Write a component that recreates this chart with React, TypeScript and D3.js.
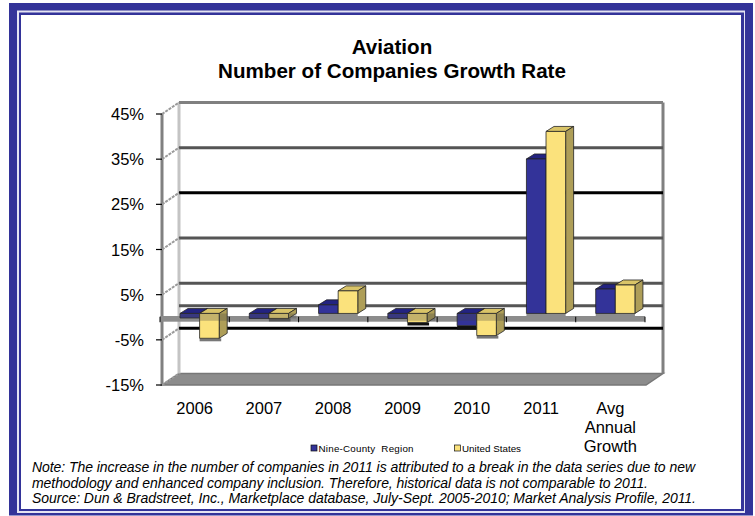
import React from "react";
import * as d3 from "d3";

const categories = ["2006", "2007", "2008", "2009", "2010", "2011", "Avg|Annual|Growth"];
const nineCounty = [-1.0, -1.1, 1.9, -1.1, -2.7, 34.2, 5.4];
const unitedStates = [-5.5, -1.1, 5.0, -2.0, -4.9, 40.3, 6.3];
const yTicks = [45, 35, 25, 15, 5, -5, -15];
const titleLines = ["Aviation", "Number of Companies Growth Rate"];
const noteLines = [
  "Note: The increase in the number of companies in 2011 is attributed to a break in the data series due to new",
  "methodology and enhanced company inclusion. Therefore, historical data is not comparable to 2011.",
  "Source: Dun & Bradstreet, Inc., Marketplace database, July-Sept. 2005-2010; Market Analysis Profile, 2011.",
];
const noteWidths = [663, 616, 664];
const seriesNames = ["Nine-County  Region", "United States"];

const W = 755, H = 516;
const FRONT_L = 162, FRONT_R = 646;
const DX = 17, DY = 11.5;
const BLUE = "#333399", YELLOW = "#FBE27C", BLUE_TOP = "#232380", YELLOW_TOP = "#D9C468", BLUE_SIDE = "#1d1d6b", YELLOW_SIDE = "#AE9E58";

const y = d3.scaleLinear().domain([-15, 45]).range([385, 114]);
const x = d3.scaleBand().domain(categories).range([160, 645]).paddingInner(0).paddingOuter(0);
const BAR_BASE_SHIFT = -3.8;
const BAR_W = 19.6, BAR_DX = 8, BAR_DY = 5, BAR_OFFSET = 20;
const gridColor = (v: number) => (v === 45 ? "#808080" : v === 25 || v === -5 ? "#000" : "#555");
const pts = (a: number[][]) => a.map((p) => p.join(",")).join(" ");

function Bar({ xl, v, front, top, side }: { xl: number; v: number; front: string; top: string; side: string }) {
  const base = y(0) + BAR_BASE_SHIFT;
  const yv = y(v) + BAR_BASE_SHIFT;
  const t = Math.min(base, yv), b = Math.max(base, yv);
  const xr = xl + BAR_W;
  return (
    <g>
      <g stroke="#222" strokeWidth={0.8} strokeLinejoin="round">
        <polygon points={pts([[xl, t], [xl + BAR_DX, t - BAR_DY], [xr + BAR_DX, t - BAR_DY], [xr, t]])} fill={top} />
        <polygon points={pts([[xr, t], [xr + BAR_DX, t - BAR_DY], [xr + BAR_DX, b - BAR_DY], [xr, b]])} fill={side} />
        <rect x={xl} y={t} width={BAR_W} height={b - t} fill={front} />
      </g>
      {/* the zero floor shows through the part of a falling bar that crosses it */}
      {v < 0 && <rect x={xl} y={base} width={BAR_W + BAR_DX} height={Math.min(y(0) + 3.5, b) - base} fill="#444" opacity={0.3} />}
    </g>
  );
}

export default function App() {
  return (
    <svg width={W} height={H} viewBox={`0 0 ${W} ${H}`} style={{ position: "absolute", left: 0, top: 0, fontFamily: "'Liberation Sans', Arial, sans-serif" }}>
      <rect width={W} height={H} fill="#fff" />
      {/* frame */}
      <rect x={9} y={3} width={744} height={512.5} fill={BLUE} />
      <rect x={17} y={10.5} width={728} height={502.5} fill="#e4e4f2" />
      <rect x={19} y={12.5} width={725} height={498.5} fill={BLUE} />
      <rect x={21} y={15} width={720} height={494} fill="#fff" />

      {titleLines.map((t, i) => (
        <text key={t} x={392} y={54 + i * 24} textAnchor="middle" fontSize={20.6} fontWeight={700} fill="#000">{t}</text>
      ))}

      {/* walls */}
      <polygon points={pts([[FRONT_L, y(-15)], [FRONT_L + DX, y(-15) - DY], [FRONT_R + DX, y(-15) - DY], [FRONT_R, y(-15)]])} fill="#8c8c8c" stroke="#777" strokeWidth={1.5} />
      <line x1={FRONT_L + DX} x2={FRONT_L + DX} y1={y(45) - DY} y2={y(-15) - DY} stroke="#c4c4c4" strokeWidth={3} />
      <line x1={FRONT_L} x2={FRONT_L} y1={y(45)} y2={y(-15)} stroke="#808080" strokeWidth={3} />
      <line x1={FRONT_R + DX} x2={FRONT_R + DX} y1={y(45) - DY} y2={y(-15) - DY} stroke="#808080" strokeWidth={3} />

      {yTicks.map((v) => (
        <g key={v}>
          {v !== -15 && <line x1={FRONT_L + DX} x2={FRONT_R + DX} y1={y(v) - DY} y2={y(v) - DY} stroke={gridColor(v)} strokeWidth={3} />}
          <line x1={FRONT_L} x2={FRONT_L + DX} y1={y(v)} y2={y(v) - DY} stroke="#9a9a9a" strokeWidth={2} strokeDasharray="3 1" />
          <line x1={FRONT_L - 6} x2={FRONT_L} y1={y(v)} y2={y(v)} stroke="#000" strokeWidth={1.2} />
          <text x={144} y={y(v) + 6} textAnchor="end" fontSize={16.5} fill="#000">{v}%</text>
        </g>
      ))}
      {/* back line of the zero floor */}
      <line x1={FRONT_L + DX} x2={FRONT_R + DX} y1={y(0) - DY} y2={y(0) - DY} stroke="#555" strokeWidth={3} />

      {/* zero floor */}
      <rect x={160} y={y(0) - 1.25} width={485} height={5.7} fill="#8c8c8c" />
      {[...categories.map((c) => x(c)!), 645].map((tx) => (
        <line key={tx} x1={tx} x2={tx} y1={y(0) - 0.5} y2={y(0) + 5} stroke="#000" strokeWidth={1} />
      ))}

      {/* shadows */}
      {categories.map((c, i) => {
        const xl = x(c)! + BAR_OFFSET;
        const base = y(0) + BAR_BASE_SHIFT;
        const a = nineCounty[i], b = unitedStates[i];
        if (a > 0 || b > 0) {
          return <rect key={c} x={xl} y={base} width={BAR_W * 2} height={y(0) - base + 1} fill="#8c8c8c" />;
        }
        return (
          <g key={c}>
            {a < -2.5 && <rect x={xl} y={y(a) + BAR_BASE_SHIFT} width={BAR_W} height={4} fill="#111" />}
            <rect x={xl + BAR_W} y={y(b) + BAR_BASE_SHIFT} width={BAR_W + 2} height={3} fill={b > -1.5 ? "#555" : b > -3 ? "#111" : "#777"} />
          </g>
        );
      })}

      {/* bars */}
      {categories.map((c, i) => {
        const xl = x(c)! + BAR_OFFSET;
        return (
          <g key={c}>
            <Bar xl={xl} v={nineCounty[i]} front={BLUE} top={BLUE_TOP} side={BLUE_SIDE} />
            <Bar xl={xl + BAR_W} v={unitedStates[i]} front={YELLOW} top={YELLOW_TOP} side={YELLOW_SIDE} />
          </g>
        );
      })}

      {/* category labels */}
      {categories.map((c) => {
        const cx = x(c)! + x.bandwidth() / 2;
        return c.split("|").map((line, j) => (
          <text key={line} x={cx} y={414 + j * 19} textAnchor="middle" fontSize={16.5} fill="#000">{line}</text>
        ));
      })}

      {/* legend */}
      <rect x={311} y={445} width={6} height={6} fill={BLUE} stroke="#111" strokeWidth={0.7} />
      <text x={318.5} y={452} fontSize={9.8} fill="#000" textLength={95} lengthAdjust="spacing" style={{ whiteSpace: "pre" }}>{seriesNames[0]}</text>
      <rect x={454.5} y={445} width={6} height={6} fill={YELLOW} stroke="#111" strokeWidth={0.7} />
      <text x={462} y={452} fontSize={9.8} fill="#000" textLength={59} lengthAdjust="spacing">{seriesNames[1]}</text>

      {/* notes */}
      {noteLines.map((t, i) => (
        <text key={i} x={32} y={472 + i * 15.7} fontSize={14} fontStyle="italic" fill="#000" textLength={noteWidths[i]} lengthAdjust="spacing">{t}</text>
      ))}
    </svg>
  );
}
